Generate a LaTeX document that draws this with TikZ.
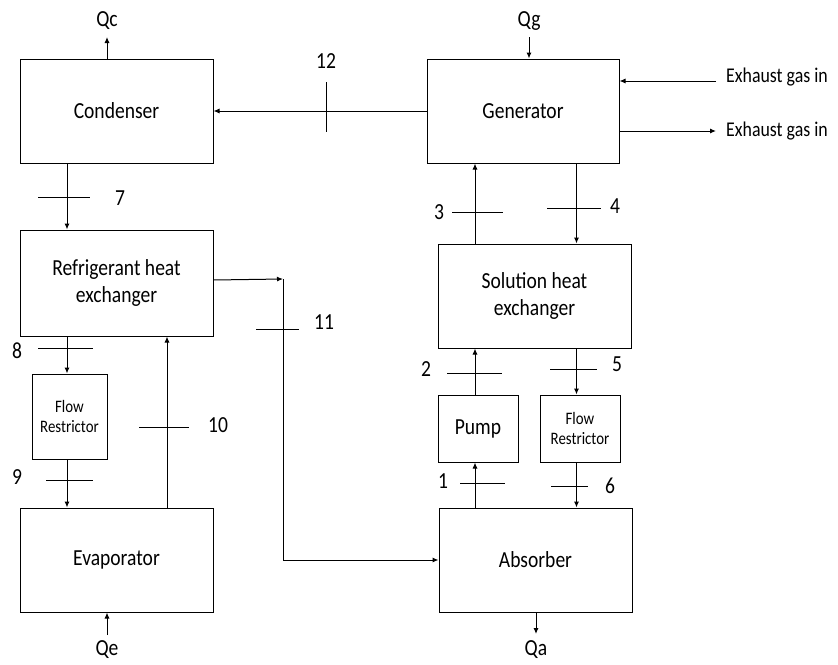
\documentclass[tikz,border=0pt]{standalone}
\usepackage{fontspec}
\setmainfont{Carlito}[FakeStretch=0.85]
\usetikzlibrary{
  arrows.meta,
  positioning
}
\tikzset{
  unit/.style={
    draw,
    line width=1pt,
    minimum width=193pt,
    minimum height=104pt,
    inner sep=0pt,
    align=center,
    font=\fontsize{23}{27}\selectfont
  },
  smallunit/.style={unit, minimum width=80pt, minimum height=67pt},
  restrictor/.style={smallunit, font=\fontsize{17.5}{20.7}\selectfont},
  flow/.style={-{Latex[length=6pt,width=5pt]}, line width=1pt},
  tick/.style={line width=1pt},
  num/.style={font=\fontsize{23}{27}\selectfont, inner sep=0pt},
  gas/.style={font=\fontsize{21}{25}\selectfont, inner sep=0pt}
}
\begin{document}
\begin{tikzpicture}[x=1pt, y=-1pt]
  \useasboundingbox (0,0) rectangle (838,664);

  % refrigerant side
  \node[unit] (cond) at (116.5,111) {Condenser};
  \node[unit, minimum height=106pt, below=66pt of cond] (rhx)
    {Refrigerant heat\\exchanger};
  \node[restrictor, minimum width=75pt, minimum height=85pt,
    below=37pt of rhx.south west, anchor=north west, xshift=12pt] (fr1)
    {Flow\\Restrictor};
  \node[unit, below=171pt of rhx] (evap) {Evaporator};

  % solution side
  \node[unit, minimum width=192pt] (gen) at (523,111) {Generator};
  \node[unit, below=80pt of gen, xshift=11.5pt] (shx)
    {Solution heat\\exchanger};
  \node[smallunit, below=46pt of shx.south west, anchor=north west] (pump)
    {Pump};
  \node[restrictor, right=21pt of pump] (fr2) {Flow\\Restrictor};
  \node[unit, below=159pt of shx, xshift=1pt] (abs) {Absorber};

  \coordinate (colA) at (67,0);
  \coordinate (colB) at (167,0);
  \coordinate (colC) at (475,0);
  \coordinate (colD) at (576.5,0);
  \coordinate (bend) at (283,279);

  \draw[flow] (cond.south -| colA) -- (rhx.north -| colA);
  \draw[flow] (rhx.south -| colA) -- (fr1.north -| colA);
  \draw[flow] (fr1.south -| colA) -- (evap.north -| colA);
  \draw[flow] (evap.north -| colB) -- (rhx.south -| colB);
  \draw[flow] (gen.west) -- (cond.east);
  \draw[flow] ([yshift=3pt]rhx.east) -- (bend);
  \draw[flow] (bend) |- (abs.west);
  \draw[flow] (shx.north -| colC) -- (gen.south -| colC);
  \draw[flow] (gen.south -| colD) -- (shx.north -| colD);
  \draw[flow] (pump.north -| colC) -- (shx.south -| colC);
  \draw[flow] (shx.south -| colD) -- (fr2.north -| colD);
  \draw[flow] (abs.north -| colC) -- (pump.south -| colC);
  \draw[flow] (fr2.south -| colD) -- (abs.north -| colD);

  % state points
  \draw[tick] (326,82) -- (326,132);
  \node[num] (p12) at (326,61) {12};
  \foreach \n/\xa/\xb/\yt/\lx/\ly in {
    7/38/90/197/120/198,
    8/38/93/348/17/351,
    9/46/93/480/17/477,
    10/139/189/427/218/425,
    11/256/299/329/324/322,
    3/452/503/212/439/212,
    4/547/601/208/615/206,
    2/447/502/373/426/369,
    5/550/597/369/617/364,
    1/460/505/483/443/481,
    6/551/588/486/610/486}
  {
    \draw[tick] (\xa,\yt) -- (\xb,\yt);
    \node[num] (p\n) at (\lx,\ly) {\n};
  }

  % heat flows
  \coordinate (qcend) at (107,37);
  \coordinate (qgstart) at (529,37);
  \coordinate (qestart) at (107,635);
  \coordinate (qaend) at (536,634);
  \node[num, above=7pt of qcend] (qc) {Qc};
  \node[num, above=6pt of qgstart] (qg) {Qg};
  \node[num, below=5pt of qestart] (qe) {Qe};
  \node[num, below=6pt of qaend] (qa) {Qa};
  \draw[flow] (cond.north -| qcend) -- (qcend);
  \draw[flow] (qgstart) -- (gen.north -| qgstart);
  \draw[flow] (qestart) -- (evap.south -| qestart);
  \draw[flow] (abs.south -| qaend) -- (qaend);

  % exhaust gas
  \coordinate (gasin) at (716,81);
  \coordinate (gasout) at (716,131);
  \draw[flow] (gasin) -- (gen.east |- gasin);
  \draw[flow] (gen.east |- gasout) -- (gasout);
  \node[gas, right=10pt of gasin, yshift=4pt] (gasinlabel) {Exhaust gas in};
  \node[gas, right=10pt of gasout] (gasoutlabel) {Exhaust gas in};
\end{tikzpicture}
\end{document}
